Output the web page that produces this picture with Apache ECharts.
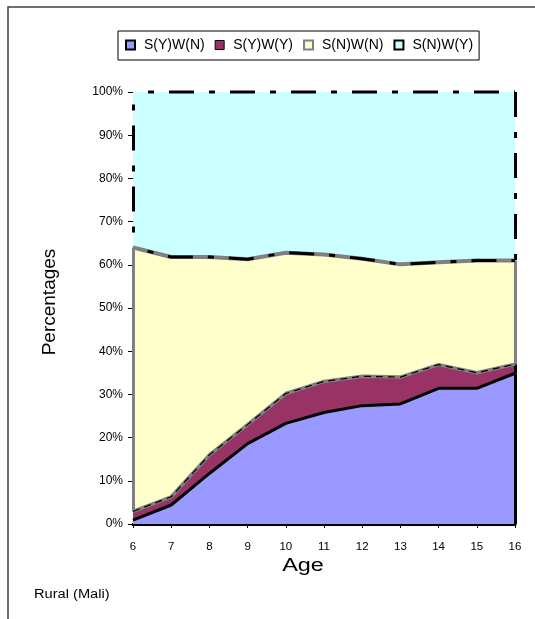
<!DOCTYPE html>
<html><head><meta charset="utf-8">
<script src="https://cdn.jsdelivr.net/npm/echarts@6/dist/echarts.min.js"></script>
<style>html,body{margin:0;padding:0;background:#fff}#c{width:535px;height:619px}</style>
</head><body><div id="c"></div>
<script>
const ages = ['6','7','8','9','10','11','12','13','14','15','16'];
const yTickLabels = ['0%','10%','20%','30%','40%','50%','60%','70%','80%','90%','100%'];
const seriesNames = ['S(Y)W(N)','S(Y)W(Y)','S(N)W(N)','S(N)W(Y)'];
const sYwN = [0.9, 4.4, 11.7, 18.6, 23.3, 25.8, 27.4, 27.8, 31.4, 31.4, 34.9];
const sYwY = [2.0, 1.9, 4.3, 4.4, 6.9, 7.2, 6.8, 6.2, 5.5, 3.6, 2.1];
const sNwN = [61.1, 55.5, 45.8, 38.3, 32.6, 29.4, 27.2, 26.1, 23.7, 26.0, 24.0];
const sNwY = [36.0, 38.2, 38.2, 38.7, 37.2, 37.6, 38.6, 39.9, 39.4, 39.0, 39.0];

const FONT = 'Liberation Sans, Arial, sans-serif';
const r2 = v => Math.round(v * 100) / 100;
const c1 = sYwN.map(r2);
const c2 = c1.map((v, i) => r2(v + sYwY[i]));
const c3 = c2.map((v, i) => r2(v + sNwN[i]));
const c4 = c3.map((v, i) => r2(v + sNwY[i]));
const last = ages.length - 1;
const DASH = [25, 15, 6, 15];

function area(name, data, color) {
  return {type: 'line', name, data, stack: 'total', symbol: 'none', z: 1,
    lineStyle: {width: 0}, itemStyle: {color}, areaStyle: {color, opacity: 1}, animation: false};
}
function edge(id, data, color, width, type, offset, z, extra) {
  return Object.assign({type: 'line', name: id, data, symbol: 'none', silent: true, clip: false, z,
    lineStyle: {color, width, type: type || 'solid', dashOffset: offset || 0, cap: 'butt', join: 'round'},
    animation: false}, extra || {});
}
function vseg(idx, y1, y2, color, width, type, offset) {
  return [{coord: [idx, y1], lineStyle: {color, width, type: type || 'solid', dashOffset: offset || 0, cap: 'butt'}},
          {coord: [idx, y2]}];
}

const chart = echarts.init(document.getElementById('c'));
chart.setOption({
  animation: false,
  backgroundColor: '#fff',
  textStyle: {fontFamily: FONT},
  grid: {left: 133, right: 20, top: 92, bottom: 95},
  legend: {
    left: 118, top: 31, orient: 'horizontal', icon: 'rect', itemWidth: 9, itemHeight: 9, itemGap: 10,
    padding: [7, 6, 8, 7], borderColor: '#000', borderWidth: 1, selectedMode: false,
    textStyle: {fontFamily: FONT, fontSize: 14, color: '#000', width: 64, padding: [0, 0, 0, 4]},
    data: [
      {name: seriesNames[0], itemStyle: {color: '#9999FF', borderColor: '#000', borderWidth: 2}},
      {name: seriesNames[1], itemStyle: {color: '#993366', borderColor: '#000', borderWidth: 1}},
      {name: seriesNames[2], itemStyle: {color: '#FFFFCC', borderColor: '#808080', borderWidth: 2}},
      {name: seriesNames[3], itemStyle: {color: '#CCFFFF', borderColor: '#000', borderWidth: 2}}
    ]
  },
  xAxis: {
    type: 'category', data: ages, boundaryGap: false,
    axisLine: {lineStyle: {color: '#000', width: 3}},
    axisTick: {show: true, length: 4, lineStyle: {color: '#000', width: 1}},
    axisLabel: {fontFamily: FONT, fontSize: 11.5, color: '#000', margin: 17},
    splitLine: {show: false}
  },
  yAxis: {
    type: 'value', min: 0, max: 100, interval: 10,
    axisLine: {show: false},
    axisTick: {show: true, length: 5, lineStyle: {color: '#000', width: 1}},
    axisLabel: {fontFamily: FONT, fontSize: 12, color: '#000', margin: 10,
      formatter: v => yTickLabels[Math.round(v / 10)]},
    splitLine: {show: false}
  },
  series: [
    area(seriesNames[0], sYwN, '#9999FF'),
    area(seriesNames[1], sYwY, '#993366'),
    area(seriesNames[2], sNwN, '#FFFFCC'),
    area(seriesNames[3], sNwY, '#CCFFFF'),
    edge('_e2g', c2, '#808080', 3.5, 'solid', 0, 5),
    edge('_e2d', c2, '#000', 1.2, [7, 5], 0, 6),
    edge('_e1', c1, '#000', 3, 'solid', 0, 7),
    edge('_e3g', c3, '#808080', 4, 'solid', 0, 5),
    edge('_e3d', c3, '#000', 3, DASH, 25, 6),
    edge('_e4d', c4, '#000', 3, DASH, 25, 6, {
      markLine: {symbol: ['none', 'none'], silent: true, label: {show: false}, animation: false,
        data: [
          vseg(0, c2[0], c3[0], '#808080', 3),
          vseg(0, c3[0], c4[0], '#000', 3, DASH, 25),
          vseg(last, 0, c1[last], '#000', 3),
          vseg(last, c1[last], c2[last], '#000', 3),
          vseg(last, c2[last], c3[last], '#808080', 3),
          vseg(last, c4[last], c3[last], '#000', 3, DASH, 0)
        ]}
    })
  ],
  graphic: [
    {type: 'rect', shape: {x: 8, y: 7, width: 700, height: 800}, silent: true,
      style: {fill: 'none', stroke: '#404040', lineWidth: 1.5}},
    {type: 'text', x: 50, y: 302, rotation: Math.PI / 2, silent: true,
      style: {text: 'Percentages', font: '19px ' + FONT, fill: '#000', align: 'center', verticalAlign: 'middle'}},
    {type: 'text', x: 303, y: 566, scaleX: 1.3, silent: true,
      style: {text: 'Age', font: '18px ' + FONT, fill: '#000', align: 'center', verticalAlign: 'middle'}},
    {type: 'text', x: 34, y: 595, scaleX: 1.22, silent: true,
      style: {text: 'Rural (Mali)', font: '12px ' + FONT, fill: '#000', align: 'left', verticalAlign: 'middle'}}
  ]
});
</script></body></html>
